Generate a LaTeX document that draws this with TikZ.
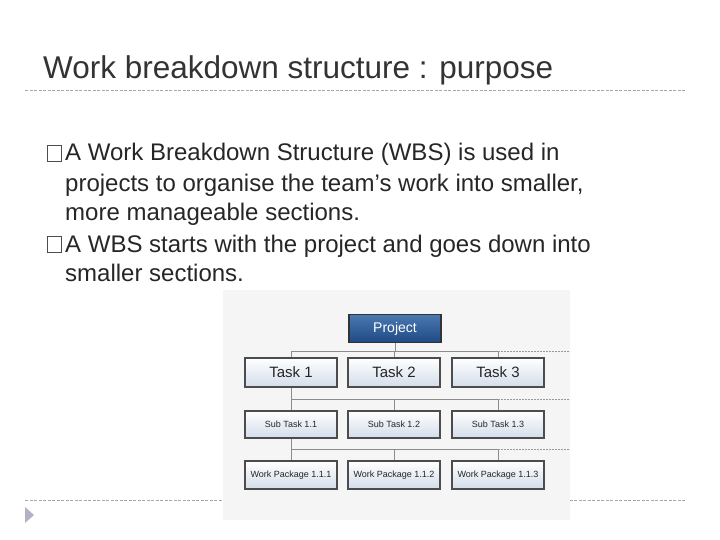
\documentclass[tikz,border=0pt]{standalone}
\usepackage{fontspec}
\setmainfont{Liberation Sans}
\definecolor{pjtop}{HTML}{4A78B0}
\definecolor{pjbot}{HTML}{1F4A85}
\definecolor{bxbot}{HTML}{D3DDEA}
\begin{document}
\begin{tikzpicture}[x=1pt,y=-1pt,
  box/.style={draw=black!70,line width=1.2pt,top color=white,bottom color=bxbot,minimum width=92pt,inner sep=0pt,font=\fontsize{#1}{#1}\selectfont,text=black!85},
  con/.style={draw=black!45,line width=1pt},
  ext/.style={draw=black!40,dash pattern=on 2pt off 1pt,line width=0.5pt},
  sep/.style={draw=black!35,dash pattern=on 3pt off 1.5pt,line width=0.6pt}]
\useasboundingbox (0,0) rectangle (720,540);
\node[anchor=base west,font=\fontsize{31.5}{31.5}\selectfont,text=black!80,inner sep=0] (title) at (43,79) {Work breakdown structure : purpose};
\draw[sep] (25,90) -- (685,90);
\draw[sep] (25,500) -- (685,500);
\fill[blue!25!black!30] (25,507) -- (34,515) -- (25,523) -- cycle;
\begin{scope}[every node/.style={anchor=base west,inner sep=0,font=\fontsize{24}{24}\selectfont,text=black!85}]
\node (b1) at (65,161) {A Work Breakdown Structure (WBS) is used in};
\node (b1b) at (65,192) {projects to organise the team’s work into smaller,};
\node (b1c) at (65,221) {more manageable sections.};
\node (b2) at (65,252) {A WBS starts with the project and goes down into};
\node (b2c) at (65,281) {smaller sections.};
\end{scope}
\draw[black!70,line width=0.6pt] (47,145) rectangle (61,161);
\draw[black!70,line width=0.6pt] (47,236) rectangle (61,252);
\fill[black!4] (223,290) rectangle (570,520);
% connectors
\draw[con] (395,342) -- (395,351);
\draw[con] (291,351) -- (498,351) (291,351) -- (291,358) (394,351) -- (394,358) (498,351) -- (498,358);
\draw[con] (291,387) -- (291,399) (291,399) -- (498,399) (394,399) -- (394,411) (498,399) -- (498,411) (291,399)--(291,411);
\draw[con] (291,438) -- (291,449) (291,449) -- (498,449) (394,449) -- (394,461) (498,449) -- (498,461) (291,449)--(291,461);
\draw[ext] (498,351) -- (570,351) (498,399) -- (570,399) (498,449) -- (570,449);
\node[draw=black!80,line width=1.2pt,top color=pjtop,bottom color=pjbot,text=white,minimum width=92pt,minimum height=28pt,inner sep=0,font=\fontsize{14}{14}\selectfont] (p) at (395,328.5) {Project};
\foreach \n/\x in {1/291,2/394,3/498}{
  \node[box=15,minimum height=29pt] (t\n) at (\x,372.5) {Task \n};
  \node[box=9,minimum height=27pt] (s\n) at (\x,424.5) {Sub Task 1.\n};
  \node[box=9,minimum height=28pt] (w\n) at (\x,475) {Work Package 1.1.\n};
}
\end{tikzpicture}
\end{document}
